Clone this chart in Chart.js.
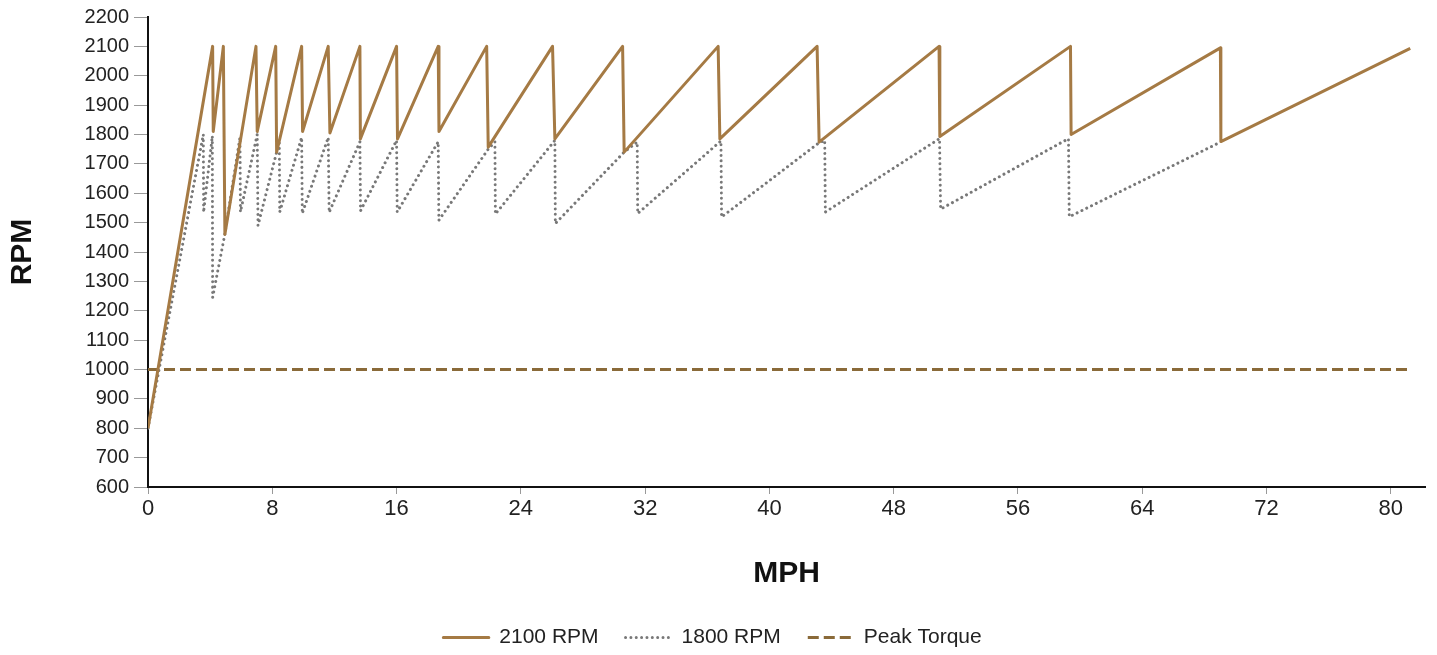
<!DOCTYPE html>
<html>
<head>
<meta charset="utf-8">
<script src="https://cdn.jsdelivr.net/npm/chart.js@4/dist/chart.umd.min.js"></script>
<style>
html,body{margin:0;padding:0;background:#fff;}
canvas{display:block;}
</style>
</head>
<body>
<canvas id="c" width="1437" height="655"></canvas>
<script>
// ---- data ----
const seriesNames = ['2100 RPM', '1800 RPM', 'Peak Torque'];

const mph2100 = [0, 4.16, 4.20, 4.85, 4.95, 6.95, 7.03, 8.22, 8.28, 9.89, 9.95, 11.60, 11.71,
  13.64, 13.67, 16.00, 16.06, 18.68, 18.73, 21.80, 21.90, 26.04, 26.19, 30.55, 30.65,
  36.70, 36.81, 43.07, 43.20, 50.92, 50.97, 59.38, 59.42, 69.03, 69.06, 81.25];
const rpm2100 = [800, 2100, 1810, 2100, 1460, 2100, 1810, 2100, 1740, 2100, 1810, 2100, 1805,
  2100, 1785, 2100, 1785, 2100, 1810, 2100, 1757, 2100, 1785, 2100, 1740,
  2100, 1785, 2100, 1774, 2100, 1793, 2100, 1800, 2095, 1776, 2093];

const mph1800 = [0, 3.56, 3.58, 4.14, 4.16, 4.95, 5.92, 5.95, 7.03, 7.08, 8.28, 8.45, 8.48,
  9.89, 9.93, 11.60, 11.66, 13.64, 13.68, 16.00, 16.04, 18.68, 18.72, 21.90, 22.33, 22.36,
  26.19, 26.22, 30.65, 31.49, 31.52, 36.88, 36.92, 43.20, 43.56, 43.60, 50.95, 51.02,
  59.25, 59.30, 69.03];
const rpm1800 = [800, 1800, 1535, 1795, 1245, 1462, 1790, 1536, 1800, 1490, 1740, 1780, 1536,
  1790, 1531, 1790, 1535, 1775, 1540, 1780, 1536, 1775, 1508, 1750, 1775, 1529,
  1780, 1497, 1740, 1774, 1531, 1778, 1519, 1772, 1780, 1536, 1786, 1546,
  1786, 1520, 1774];

const mphTorque = [0, 81.3];
const rpmTorque = [1000, 1000];

const xTickValues = [0, 8, 16, 24, 32, 40, 48, 56, 64, 72, 80];
const yTickValues = [600, 700, 800, 900, 1000, 1100, 1200, 1300, 1400, 1500, 1600, 1700, 1800, 1900, 2000, 2100, 2200];

// ---- chart ----
const FONT = '"Liberation Sans", Arial, Helvetica, sans-serif';
const pts = (xs, ys) => xs.map((x, i) => ({x: x, y: ys[i]}));

new Chart(document.getElementById('c').getContext('2d'), {
  type: 'line',
  data: {
    datasets: [
      {label: seriesNames[0], data: pts(mph2100, rpm2100), borderColor: '#a57a44', backgroundColor: 'rgba(0,0,0,0)',
        borderWidth: 3, borderJoinStyle: 'round', pointRadius: 0, tension: 0, fill: false},
      {label: seriesNames[1], data: pts(mph1800, rpm1800), borderColor: '#787878', backgroundColor: 'rgba(0,0,0,0)',
        borderWidth: 3, borderDash: [0.01, 5.342], borderCapStyle: 'round', pointRadius: 0, tension: 0, fill: false},
      {label: seriesNames[2], data: pts(mphTorque, rpmTorque), borderColor: '#8a6a39', backgroundColor: 'rgba(0,0,0,0)',
        borderWidth: 3, borderDash: [11, 5], pointRadius: 0, tension: 0, fill: false}
    ]
  },
  options: {
    responsive: false,
    animation: false,
    devicePixelRatio: 1,
    layout: {padding: {top: 17, right: 12, bottom: -3, left: 0}},
    plugins: {
      legend: {
        position: 'bottom',
        labels: {
          boxWidth: 45.5, boxHeight: 0,
          font: {size: 21, family: FONT}, color: '#222', padding: 27
        }
      },
      tooltip: {enabled: false}
    },
    scales: {
      x: {
        type: 'linear', min: 0, max: 82.2,
        afterBuildTicks: s => { s.ticks = xTickValues.map(v => ({value: v})); },
        afterFit: s => { s.height = 113; },
        ticks: {stepSize: 8, includeBounds: false, autoSkip: false, maxRotation: 0,
          font: {size: 22, family: FONT}, color: '#222', padding: 2, callback: v => String(v)},
        grid: {drawOnChartArea: false, color: '#999', tickLength: 7, tickWidth: 1},
        border: {color: '#111', width: 2},
        title: {display: true, text: 'MPH', color: '#111',
          font: {size: 30, weight: 'bold', family: FONT}, padding: {top: 0, bottom: 8}}
      },
      y: {
        min: 600, max: 2200,
        afterBuildTicks: s => { s.ticks = yTickValues.map(v => ({value: v})); },
        afterFit: s => { s.width = 148; },
        ticks: {stepSize: 100, autoSkip: false, font: {size: 20, family: FONT}, color: '#222', padding: 5,
          callback: v => String(v)},
        grid: {drawOnChartArea: false, color: '#999', tickLength: 14, tickWidth: 1},
        border: {color: '#111', width: 2},
        title: {display: true, text: 'RPM', color: '#111',
          font: {size: 30, weight: 'bold', family: FONT}, padding: {top: 5, bottom: 0}}
      }
    }
  }
});
</script>
</body>
</html>
